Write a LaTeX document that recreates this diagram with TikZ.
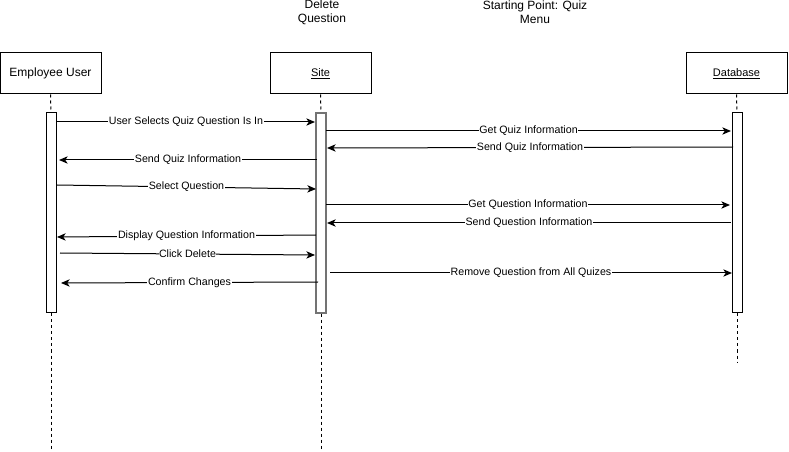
\documentclass[tikz,border=0pt]{standalone}
\usepackage{fontspec}
\setmainfont{Liberation Sans}
\usetikzlibrary{arrows.meta}
\begin{document}
\begin{tikzpicture}[x=0.75pt,y=-0.75pt,
  actorbox/.style={draw, line width=0.75pt, minimum width=75.75pt, minimum height=30.75pt, inner sep=0pt},
  actbar/.style={draw, fill=white, line width=0.75pt, minimum width=7.5pt, minimum height=150pt, inner sep=0pt},
  life/.style={line width=0.75pt, dash pattern=on 2.25pt off 2.25pt},
  msg/.style={line width=0.75pt, -{Stealth[length=6.5pt,width=5.5pt,inset=1.8pt]}},
  lbl/.style={fill=white, inner sep=0.4pt, font=\fontsize{8}{9.5}\selectfont},
  titletxt/.style={align=center, font=\fontsize{9}{10.5}\selectfont, inner sep=0pt}]
\useasboundingbox (0,0) rectangle (789,452);
% titles
\node[titletxt] (t1) at (322,12.5) {Delete\\Question};
\node[titletxt] (t2) at (535,12.5) {Starting Point: Quiz\\Menu};
% actors
\node[actorbox, font=\fontsize{9}{10}\selectfont] (emp) at (50.5,73.5) {Employee User};
\node[actorbox, font=\fontsize{8.25}{10}\selectfont] (site) at (320.5,73.5) {\underline{Site}};
\node[actorbox, font=\fontsize{8.25}{10}\selectfont] (db) at (736.5,73.5) {\underline{Database}};
% lifeline ends
\coordinate (empend) at (51,450);
\coordinate (siteend) at (321,450);
\coordinate (dbend) at (737,362);
% activation bars
\node[actbar] (empbar) at (51,213) {};
\node[actbar, draw=black!55, line width=1.1pt] (sitebar) at (321,213) {};
\node[actbar] (dbbar) at (737,213) {};
% lifelines
\draw[life] (emp.south) -- (empbar.north);
\draw[life] (empbar.south) -- (empend);
\draw[life] (site.south) -- (sitebar.north);
\draw[life] (sitebar.south) -- (siteend);
\draw[life] (db.south) -- (dbbar.north);
\draw[life] (dbbar.south) -- (dbend);
% message endpoints
\coordinate (m1s) at (57,122);  \coordinate (m1e) at (315,122);
\coordinate (m2s) at (326,131); \coordinate (m2e) at (731,131);
\coordinate (m3s) at (733,147); \coordinate (m3e) at (327,148);
\coordinate (m4s) at (317,160); \coordinate (m4e) at (59,160);
\coordinate (m5s) at (57,185);  \coordinate (m5e) at (316,189);
\coordinate (m6s) at (326,205); \coordinate (m6e) at (730,205);
\coordinate (m7s) at (731,223); \coordinate (m7e) at (327,223);
\coordinate (m8s) at (316,235); \coordinate (m8e) at (57,237);
\coordinate (m9s) at (60,253);  \coordinate (m9e) at (315,255);
\coordinate (m10s) at (330,273); \coordinate (m10e) at (732,273);
\coordinate (m11s) at (318,282); \coordinate (m11e) at (61,283);
% messages
\draw[msg] (m1s) -- node[lbl] (l1) {User Selects Quiz Question Is In} (m1e);
\draw[msg] (m2s) -- node[lbl] (l2) {Get Quiz Information} (m2e);
\draw[msg] (m3s) -- node[lbl] (l3) {Send Quiz Information} (m3e);
\draw[msg] (m4s) -- node[lbl] (l4) {Send Quiz Information} (m4e);
\draw[msg] (m5s) -- node[lbl] (l5) {Select Question} (m5e);
\draw[msg] (m6s) -- node[lbl] (l6) {Get Question Information} (m6e);
\draw[msg] (m7s) -- node[lbl] (l7) {Send Question Information} (m7e);
\draw[msg] (m8s) -- node[lbl] (l8) {Display Question Information} (m8e);
\draw[msg] (m9s) -- node[lbl] (l9) {Click Delete} (m9e);
\draw[msg] (m10s) -- node[lbl] (l10) {Remove Question from All Quizes} (m10e);
\draw[msg] (m11s) -- node[lbl] (l11) {Confirm Changes} (m11e);
\end{tikzpicture}
\end{document}
